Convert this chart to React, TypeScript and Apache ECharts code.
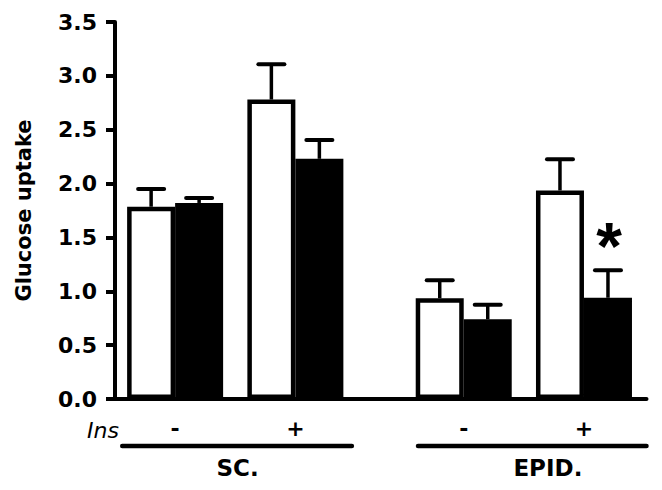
import React, { useEffect, useRef } from "react";
import * as echarts from "echarts";

// ---- data ----
const groupPositions = [1, 2, 3.4, 4.4];
const insLabels = ["-", "+", "-", "+"];
const whiteValues = [1.785, 2.78, 0.935, 1.936];
const whiteErrTop = [1.95, 3.108, 1.102, 2.226];
const blackValues = [1.82, 2.23, 0.74, 0.94];
const blackErrTop = [1.866, 2.405, 0.876, 1.195];
const blackMarks = ["", "", "", "*"];
const groupNames = ["SC.", "EPID."];
const yMin = 0;
const yMax = 3.5;
const yInterval = 0.5;

// ---- layout ----
const GROUP_LINES = [
  [0.56, 2.47],
  [3.02, 4.92],
];
const GROUP_LABEL_X = [1.52, 4.1];
const BAR_W = 48;
const FONT = "DejaVu Sans";

export default function App() {
  const ref = useRef<HTMLDivElement>(null);
  useEffect(() => {
    if (!ref.current) return;
    const chart = echarts.init(ref.current, null, { renderer: "svg" });

    const errData: any[] = [];
    groupPositions.forEach((x, i) => {
      errData.push([x, whiteValues[i], whiteErrTop[i], -1, i, 0]);
      errData.push([x, blackValues[i], blackErrTop[i], 1, i, 1]);
    });

    const option: any = {
      animation: false,
      backgroundColor: "#fff",
      grid: { left: 115, right: 15.5, top: 22, bottom: 91, containLabel: false },
      xAxis: {
        type: "value",
        min: 0.5,
        max: 4.92,
        axisLine: { show: true, onZero: false, lineStyle: { color: "#000", width: 4, cap: "round" } },
        axisTick: { show: false },
        axisLabel: { show: false },
        splitLine: { show: false },
      },
      yAxis: {
        type: "value",
        min: yMin,
        max: yMax,
        interval: yInterval,
        name: "Glucose uptake",
        nameLocation: "middle",
        nameGap: 81,
        nameTextStyle: { color: "#000", fontFamily: FONT, fontWeight: "bold", fontSize: 21 },
        axisLine: { show: true, lineStyle: { color: "#000", width: 4 } },
        axisTick: { show: true, length: 9, lineStyle: { color: "#000", width: 4 } },
        axisLabel: {
          color: "#000",
          fontFamily: FONT,
          fontWeight: "bold",
          fontSize: 22,
          margin: 18,
          formatter: (v: number) => v.toFixed(1),
        },
        splitLine: { show: false },
      },
      graphic: [
        {
          type: "text",
          x: 119,
          y: 430,
          style: {
            text: "Ins",
            fill: "#000",
            font: `italic 22px '${FONT}'`,
            textAlign: "right",
            textVerticalAlign: "middle",
          },
        },
      ],
      series: [
        {
          type: "bar",
          name: "white",
          barWidth: BAR_W,
          barGap: "0%",
          data: groupPositions.map((x, i) => [x, whiteValues[i]]),
          itemStyle: { color: "#fff", borderColor: "#000", borderWidth: 4.5 },
          z: 2,
        },
        {
          type: "bar",
          name: "black",
          barWidth: BAR_W,
          barGap: "0%",
          data: groupPositions.map((x, i) => [x, blackValues[i]]),
          itemStyle: { color: "#000", borderColor: "#000", borderWidth: 4 },
          z: 3,
        },
        {
          type: "custom",
          name: "errors",
          z: 4,
          clip: false,
          data: errData,
          renderItem: (params: any, api: any) => {
            const row = errData[params.dataIndex];
            const p0 = api.coord([row[0], row[1]]);
            const p1 = api.coord([row[0], row[2]]);
            const cx = p0[0] + (row[3] * BAR_W) / 2;
            const children: any[] = [
              {
                type: "line",
                shape: { x1: cx, y1: p0[1], x2: cx, y2: p1[1] },
                style: { stroke: "#000", lineWidth: 3.5 },
              },
              {
                type: "line",
                shape: { x1: cx - 13, y1: p1[1], x2: cx + 13, y2: p1[1] },
                style: { stroke: "#000", lineWidth: 4, lineCap: "round" },
              },
            ];
            const mark = row[5] === 1 ? blackMarks[row[4]] : "";
            if (mark) {
              children.push({
                type: "text",
                x: cx + 1,
                y: p1[1] - 24,
                style: {
                  text: mark,
                  fill: "#000",
                  font: "bold 66px 'Liberation Sans'",
                  textAlign: "center",
                  textVerticalAlign: "middle",
                },
              });
            }
            return { type: "group", children };
          },
        },
        {
          type: "custom",
          name: "ins",
          z: 4,
          clip: false,
          data: groupPositions.map((x) => [x, 0]),
          renderItem: (params: any, api: any) => {
            const p = api.coord([groupPositions[params.dataIndex], 0]);
            return {
              type: "text",
              x: p[0],
              y: p[1] + 29,
              style: {
                text: insLabels[params.dataIndex],
                fill: "#000",
                font: `bold 22px '${FONT}'`,
                textAlign: "center",
                textVerticalAlign: "middle",
              },
            };
          },
        },
        {
          type: "custom",
          name: "groups",
          z: 4,
          clip: false,
          data: groupNames.map((_, i) => [GROUP_LABEL_X[i], 0]),
          renderItem: (params: any, api: any) => {
            const i = params.dataIndex;
            const a = api.coord([GROUP_LINES[i][0], 0]);
            const b = api.coord([GROUP_LINES[i][1], 0]);
            const c = api.coord([GROUP_LABEL_X[i], 0]);
            return {
              type: "group",
              children: [
                {
                  type: "line",
                  shape: { x1: a[0], y1: a[1] + 47, x2: b[0], y2: b[1] + 47 },
                  style: { stroke: "#000", lineWidth: 4.5, lineCap: "round" },
                },
                {
                  type: "text",
                  x: c[0],
                  y: c[1] + 69,
                  style: {
                    text: groupNames[i],
                    fill: "#000",
                    font: `bold 23px '${FONT}'`,
                    textAlign: "center",
                    textVerticalAlign: "middle",
                  },
                },
              ],
            };
          },
        },
      ],
    };
    chart.setOption(option);
    return () => chart.dispose();
  }, []);
  return <div ref={ref} style={{ width: 662, height: 490, position: "absolute", left: 0, top: 0 }} />;
}
